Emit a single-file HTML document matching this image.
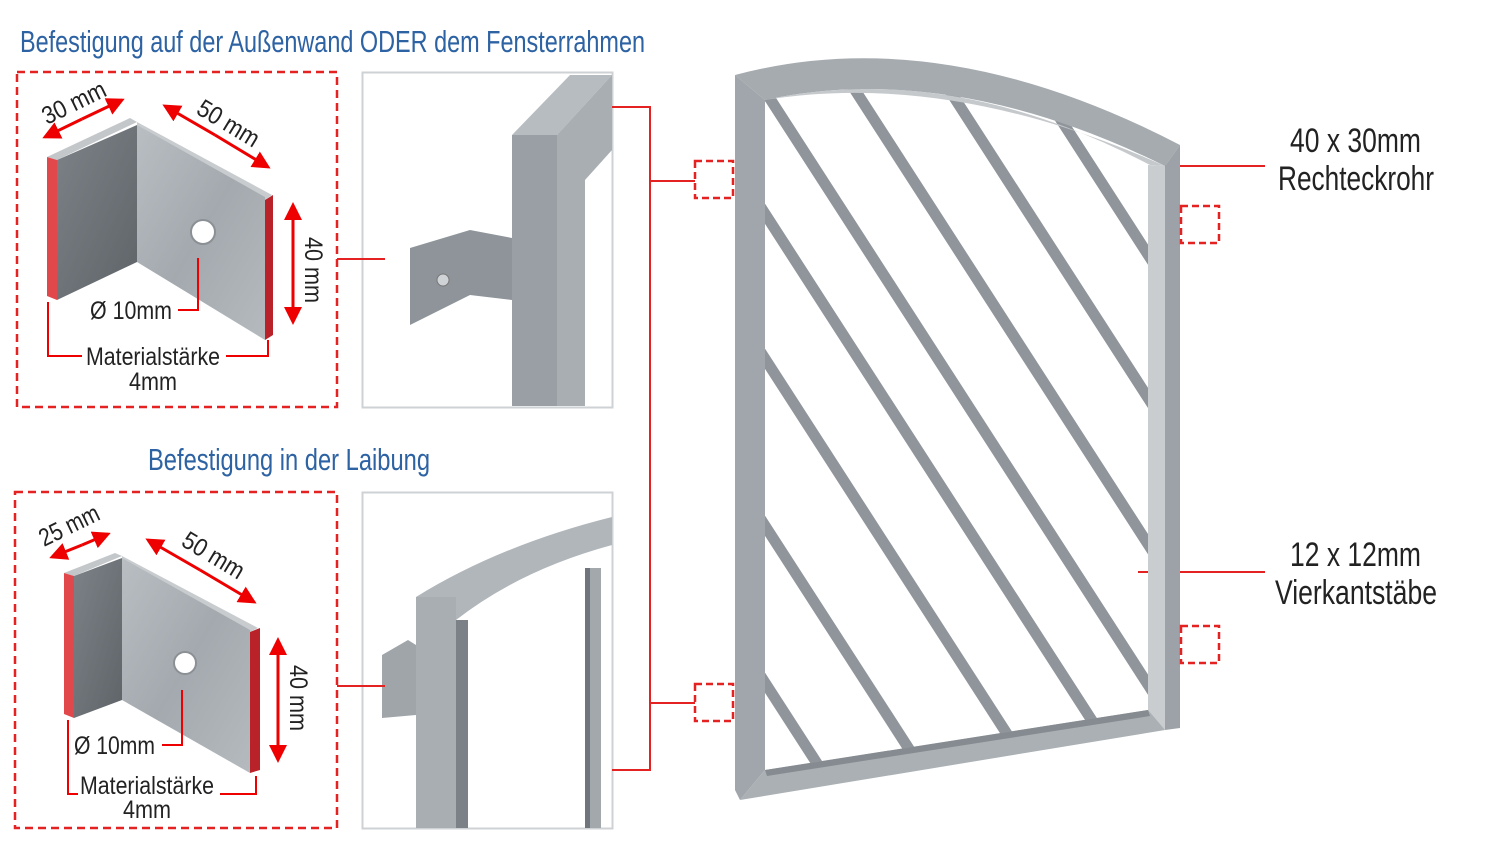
<!DOCTYPE html>
<html><head><meta charset="utf-8"><style>
html,body{margin:0;padding:0;background:#fff;width:1500px;height:855px;overflow:hidden}
svg{display:block}
text{font-family:"Liberation Sans",sans-serif}
</style></head><body>
<svg width="1500" height="855" viewBox="0 0 1500 855" xmlns="http://www.w3.org/2000/svg">
<defs>
<linearGradient id="g1" x1="0" y1="0" x2="1" y2="1"><stop offset="0" stop-color="#b9bec3"/><stop offset="0.5" stop-color="#a3a9ae"/><stop offset="1" stop-color="#b5babe"/></linearGradient>
<linearGradient id="gd" x1="0" y1="0" x2="1" y2="1"><stop offset="0" stop-color="#7c8287"/><stop offset="1" stop-color="#5f6469"/></linearGradient>
<clipPath id="inner"><path d="M765,100 Q950,45 1150,165 L1148,710 L765,772 Z"/></clipPath>
<marker id="ah" markerWidth="6" markerHeight="6" refX="5" refY="3" orient="auto" markerUnits="strokeWidth"><path d="M0,0 L6,3 L0,6 Z" fill="#e00"/></marker>
</defs>

<text x="20" y="52" font-size="31" fill="#2d62a3" textLength="625" lengthAdjust="spacingAndGlyphs">Befestigung auf der Außenwand ODER dem Fensterrahmen</text>
<text x="148" y="470" font-size="31" fill="#2d62a3" textLength="282" lengthAdjust="spacingAndGlyphs">Befestigung in der Laibung</text>

<rect x="17" y="72" width="320" height="335" fill="none" stroke="#e52222" stroke-width="2.5" stroke-dasharray="8,5"/>
<rect x="15" y="492" width="322" height="336" fill="none" stroke="#e52222" stroke-width="2.5" stroke-dasharray="8,5"/>
<rect x="362.5" y="72.5" width="250" height="335" fill="#fff" stroke="#cfd2d4" stroke-width="2"/>
<rect x="362.5" y="492.5" width="250" height="336" fill="#fff" stroke="#cfd2d4" stroke-width="2"/>

<!-- Top bracket -->
<polygon points="47,157 130,118 137,122 57,160" fill="#c3c7ca"/>
<polygon points="137,122 272,195 265,200 137,128" fill="#c8cccf"/>
<polygon points="57,160 137,125 137,262 57,300" fill="url(#gd)"/>
<polygon points="137,125 265,197 265,340 137,262" fill="url(#g1)"/>
<circle cx="203" cy="232" r="12" fill="#fff" stroke="#8b9095" stroke-width="2"/>
<polygon points="47,157 57,160 57,300 47,296" fill="#e0484b"/>
<polygon points="265,200 273,195 273,335 265,340" fill="#b82228"/>
<line x1="82" y1="119" x2="45" y2="137" stroke="#e00" stroke-width="3" marker-end="url(#ah)"/>
<line x1="82" y1="119" x2="122" y2="100" stroke="#e00" stroke-width="3" marker-end="url(#ah)"/>
<line x1="215" y1="135" x2="165" y2="106" stroke="#e00" stroke-width="3" marker-end="url(#ah)"/>
<line x1="215" y1="135" x2="268" y2="167" stroke="#e00" stroke-width="3" marker-end="url(#ah)"/>
<line x1="293" y1="265" x2="293" y2="205" stroke="#e00" stroke-width="3" marker-end="url(#ah)"/>
<line x1="293" y1="265" x2="293" y2="322" stroke="#e00" stroke-width="3" marker-end="url(#ah)"/>
<text x="0" y="0" font-size="25" fill="#222" transform="translate(47,125) rotate(-26)" textLength="68" lengthAdjust="spacingAndGlyphs">30 mm</text>
<text x="0" y="0" font-size="25" fill="#222" transform="translate(195,113) rotate(31)" textLength="68" lengthAdjust="spacingAndGlyphs">50 mm</text>
<text x="0" y="0" font-size="25" fill="#222" transform="translate(305,237) rotate(90)" textLength="66" lengthAdjust="spacingAndGlyphs">40 mm</text>
<polyline points="198,258 198,310 178,310" fill="none" stroke="#e00" stroke-width="2"/>
<text x="90" y="319" font-size="25" fill="#222" textLength="82" lengthAdjust="spacingAndGlyphs">Ø 10mm</text>
<polyline points="48,302 48,356 82,356" fill="none" stroke="#e00" stroke-width="2"/>
<polyline points="226,356 268,356 268,340" fill="none" stroke="#e00" stroke-width="2"/>
<text x="86" y="365" font-size="25" fill="#222" textLength="134" lengthAdjust="spacingAndGlyphs">Materialstärke</text>
<text x="129" y="390" font-size="25" fill="#222" textLength="48" lengthAdjust="spacingAndGlyphs">4mm</text>

<!-- Bottom bracket -->
<polygon points="64,573 115,553 122,556 74,576" fill="#c3c7ca"/>
<polygon points="122,556 258,628 250,632 122,560" fill="#c8cccf"/>
<polygon points="74,576 122,558 122,700 74,718" fill="url(#gd)"/>
<polygon points="122,558 250,630 250,773 122,700" fill="url(#g1)"/>
<circle cx="185" cy="663" r="11" fill="#fff" stroke="#8b9095" stroke-width="2"/>
<polygon points="64,573 74,576 74,718 64,714" fill="#e0484b"/>
<polygon points="250,632 260,628 260,770 250,773" fill="#b82228"/>
<line x1="82" y1="545" x2="52" y2="557" stroke="#e00" stroke-width="3" marker-end="url(#ah)"/>
<line x1="82" y1="545" x2="108" y2="534" stroke="#e00" stroke-width="3" marker-end="url(#ah)"/>
<line x1="200" y1="570" x2="148" y2="540" stroke="#e00" stroke-width="3" marker-end="url(#ah)"/>
<line x1="200" y1="570" x2="254" y2="602" stroke="#e00" stroke-width="3" marker-end="url(#ah)"/>
<line x1="278" y1="700" x2="278" y2="640" stroke="#e00" stroke-width="3" marker-end="url(#ah)"/>
<line x1="278" y1="700" x2="278" y2="760" stroke="#e00" stroke-width="3" marker-end="url(#ah)"/>
<text x="0" y="0" font-size="25" fill="#222" transform="translate(44,547) rotate(-26)" textLength="64" lengthAdjust="spacingAndGlyphs">25 mm</text>
<text x="0" y="0" font-size="25" fill="#222" transform="translate(180,545) rotate(31)" textLength="68" lengthAdjust="spacingAndGlyphs">50 mm</text>
<text x="0" y="0" font-size="25" fill="#222" transform="translate(290,665) rotate(90)" textLength="66" lengthAdjust="spacingAndGlyphs">40 mm</text>
<polyline points="182,690 182,745 162,745" fill="none" stroke="#e00" stroke-width="2"/>
<text x="74" y="754" font-size="25" fill="#222" textLength="81" lengthAdjust="spacingAndGlyphs">Ø 10mm</text>
<polyline points="68,720 68,794 78,794" fill="none" stroke="#e00" stroke-width="2"/>
<polyline points="220,794 256,794 256,776" fill="none" stroke="#e00" stroke-width="2"/>
<text x="80" y="794" font-size="25" fill="#222" textLength="134" lengthAdjust="spacingAndGlyphs">Materialstärke</text>
<text x="123" y="818" font-size="25" fill="#222" textLength="48" lengthAdjust="spacingAndGlyphs">4mm</text>

<!-- Top photo -->
<polygon points="512,135 557,135 612,75 570,75" fill="#b7bcc0"/>
<polygon points="557,135 612,75 612,150 585,180 585,406 557,406" fill="#a9aeb2"/>
<rect x="512" y="135" width="45" height="271" fill="#999fa4"/>
<polygon points="410,248 470,230 512,238 512,300 470,295 410,325" fill="#8e9499"/>
<circle cx="443" cy="280" r="6" fill="#d0d3d5" stroke="#777" stroke-width="1"/>

<!-- Bottom photo -->
<path d="M416,597 Q500,545 612,517 L612,545 Q520,570 456,620 Z" fill="#b1b6ba"/>
<rect x="416" y="597" width="40" height="231" fill="#a9aeb2"/>
<polygon points="456,620 468,620 468,828 456,828" fill="#7b8186"/>
<rect x="585" y="568" width="16" height="260" fill="#a3a8ad"/>
<rect x="585" y="568" width="5" height="260" fill="#6f757a"/>
<polygon points="382,655 408,640 416,645 416,715 382,718" fill="#a0a5aa"/>

<g stroke="#e52222" stroke-width="2" fill="none">
<line x1="337" y1="259" x2="385" y2="259"/>
<line x1="337" y1="686" x2="385" y2="686"/>
<polyline points="612,107 650,107 650,770 612,770"/>
<line x1="650" y1="181" x2="695" y2="181"/>
<line x1="650" y1="703" x2="695" y2="703"/>
<line x1="1165" y1="166" x2="1265" y2="166"/>
<line x1="1138" y1="572" x2="1265" y2="572"/>
</g>

<g clip-path="url(#inner)" stroke="#8f959a" stroke-width="11" stroke-linecap="butt">
<line x1="705" y1="-2" x2="1205" y2="773"/>
<line x1="795" y1="-3" x2="1295" y2="772"/>
<line x1="890" y1="-2" x2="1390" y2="773"/>
<line x1="985" y1="2" x2="1485" y2="777"/>
<line x1="700" y1="113" x2="1200" y2="888"/>
<line x1="700" y1="258" x2="1200" y2="1033"/>
<line x1="700" y1="425" x2="1200" y2="1200"/>
<line x1="700" y1="582" x2="1200" y2="1357"/>
</g>
<path d="M735,75 Q940,20 1180,145 L1165,166 Q950,60 765,100 Z" fill="#a6abb0"/>
<path d="M765,100 Q950,60 1150,165 L1165,166 Q950,70 765,100 Z" fill="#c5c9cc"/>
<polygon points="735,75 765,100 765,770 740,800 735,790" fill="#a0a6ab"/>
<polygon points="1148,165 1165,166 1165,730 1148,712" fill="#c9cdd0"/>
<polygon points="1165,166 1180,145 1180,728 1165,730" fill="#9ca2a7"/>
<polygon points="765,770 1148,710 1165,730 740,800" fill="#aab0b4"/>
<polygon points="765,770 1148,710 1150,716 767,776" fill="#858b90"/>

<g fill="none" stroke="#e52222" stroke-width="2.5" stroke-dasharray="7,4">
<rect x="695" y="161" width="38" height="37"/>
<rect x="695" y="684" width="38" height="37"/>
<rect x="1181" y="206" width="38" height="37"/>
<rect x="1181" y="626" width="38" height="37"/>
</g>

<text x="1290" y="152" font-size="34" fill="#222" textLength="131" lengthAdjust="spacingAndGlyphs">40 x 30mm</text>
<text x="1278" y="190" font-size="34" fill="#222" textLength="156" lengthAdjust="spacingAndGlyphs">Rechteckrohr</text>
<text x="1290" y="566" font-size="34" fill="#222" textLength="131" lengthAdjust="spacingAndGlyphs">12 x 12mm</text>
<text x="1275" y="604" font-size="34" fill="#222" textLength="162" lengthAdjust="spacingAndGlyphs">Vierkantstäbe</text>
</svg>
</body></html>
